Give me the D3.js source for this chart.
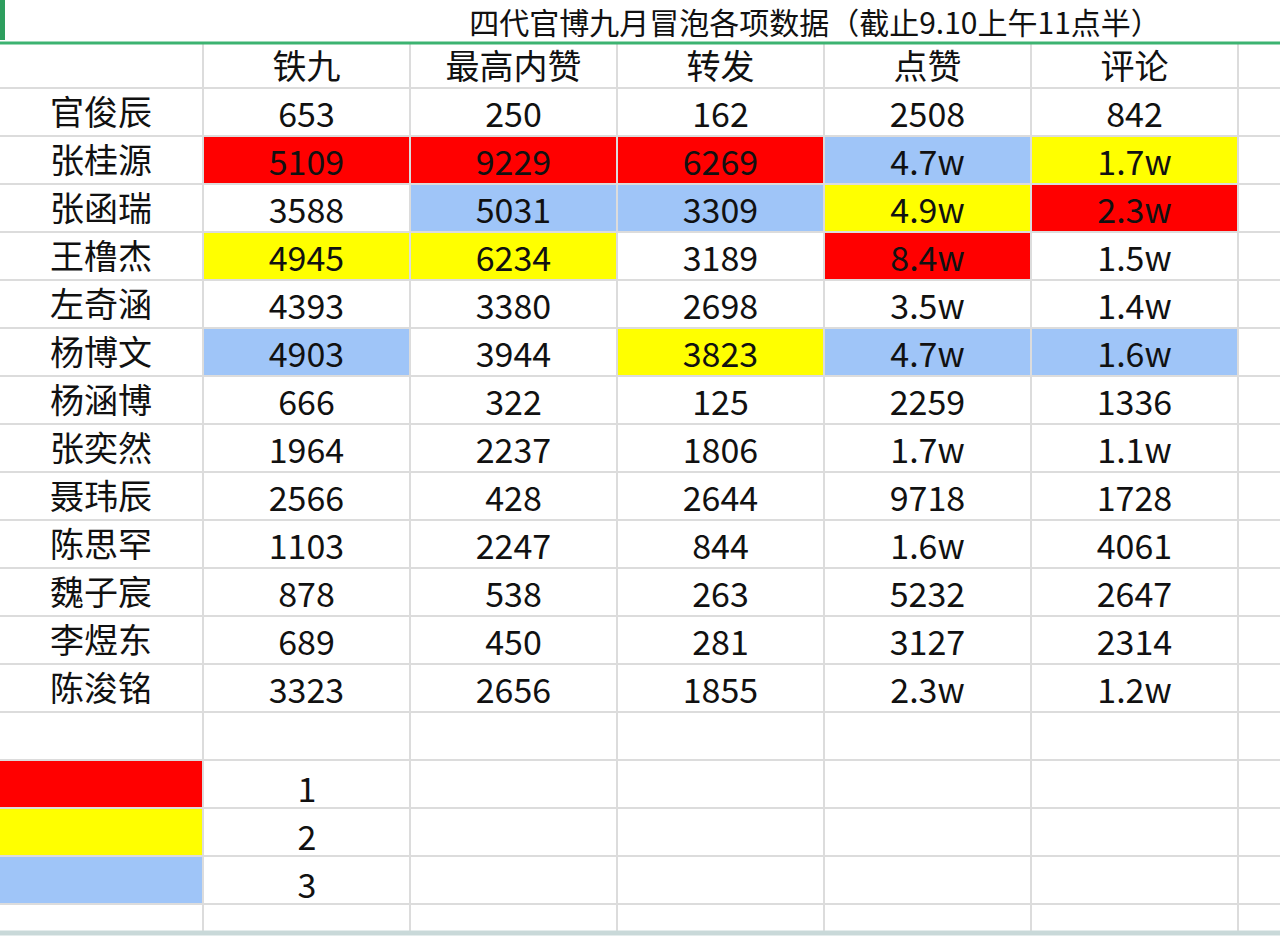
<!DOCTYPE html>
<html><head><meta charset="utf-8">
<script src="https://cdn.jsdelivr.net/npm/d3@7"></script>
<style>body{margin:0;background:#fff}</style></head>
<body><svg id="c" width="1280" height="936"></svg>
<script>
const title = "四代官博九月冒泡各项数据（截止9.10上午11点半）";
const columns = ["铁九","最高内赞","转发","点赞","评论"];
const names = ["官俊辰","张桂源","张函瑞","王橹杰","左奇涵","杨博文","杨涵博","张奕然","聂玮辰","陈思罕","魏子宸","李煜东","陈浚铭"];
const values = [
 ["653","250","162","2508","842"],
 ["5109","9229","6269","4.7w","1.7w"],
 ["3588","5031","3309","4.9w","2.3w"],
 ["4945","6234","3189","8.4w","1.5w"],
 ["4393","3380","2698","3.5w","1.4w"],
 ["4903","3944","3823","4.7w","1.6w"],
 ["666","322","125","2259","1336"],
 ["1964","2237","1806","1.7w","1.1w"],
 ["2566","428","2644","9718","1728"],
 ["1103","2247","844","1.6w","4061"],
 ["878","538","263","5232","2647"],
 ["689","450","281","3127","2314"],
 ["3323","2656","1855","2.3w","1.2w"]];
// rank highlight per cell (0 = none)
const ranks = [
 [0,0,0,0,0],[1,1,1,3,2],[0,3,3,2,1],[2,2,0,1,0],[0,0,0,0,0],[3,0,2,3,3],
 [0,0,0,0,0],[0,0,0,0,0],[0,0,0,0,0],[0,0,0,0,0],[0,0,0,0,0],[0,0,0,0,0],[0,0,0,0,0]];
const legendLabels = ["1","2","3"];
const rankColor = {1:"#ff0000",2:"#ffff00",3:"#9fc5f8"};

const svg = d3.select("#c");
const colEdges = [0,203,410,617,824,1031,1238,1280];
const x = i => colEdges[i];
const nRows = 19;
const y = d3.scaleLinear().domain([0,nRows]).range([43,43+48*nRows]);
const font = "'Noto Sans CJK SC', 'Noto Sans', sans-serif";
const dy = -3;

const cells=[];
values.forEach((r,ri)=>r.forEach((v,ci)=>cells.push({ri,ci,v,rank:ranks[ri][ci]})));
svg.selectAll("rect.h").data(cells.filter(c=>c.rank)).join("rect")
 .attr("x",d=>x(d.ci+1)).attr("y",d=>y(d.ri+1)-3).attr("width",d=>x(d.ci+2)-x(d.ci+1)).attr("height",y(1)-y(0))
 .attr("fill",d=>rankColor[d.rank]);
svg.selectAll("rect.l").data(legendLabels).join("rect")
 .attr("x",0).attr("y",(d,i)=>y(15+i)-2).attr("width",203).attr("height",y(1)-y(0))
 .attr("fill",(d,i)=>rankColor[i+1]);

const g = svg.append("g").attr("stroke","#dcdcdc").attr("stroke-width",2);
d3.range(1,nRows+1).forEach(i=>g.append("line").attr("x1",0).attr("x2",1280).attr("y1",y(i)-3).attr("y2",y(i)-3));
colEdges.slice(1,-1).forEach(c=>g.append("line").attr("x1",c).attr("x2",c).attr("y1",43).attr("y2",932));
svg.append("line").attr("x1",0).attr("x2",1280).attr("y1",933).attr("y2",933).attr("stroke","#c9d9d9").attr("stroke-width",5);

svg.append("line").attr("x1",0).attr("x2",1280).attr("y1",43).attr("y2",43).attr("stroke","#3cb371").attr("stroke-width",3);
svg.append("rect").attr("x",0).attr("y",0).attr("width",5).attr("height",40).attr("fill","#2e9e5e");
svg.append("text").attr("x",815).attr("y",34).attr("text-anchor","middle").attr("font-family",font).attr("font-size",30).attr("fill","#111").text(title);

const txt = (tx,ty,s)=>svg.append("text").attr("x",tx).attr("y",ty).attr("text-anchor","middle").attr("dominant-baseline","central").attr("font-family",font).attr("font-size",34).attr("fill","#111").text(s);
columns.forEach((c,i)=>txt((x(i+1)+x(i+2))/2,(y(0)+y(1))/2+dy,c));
names.forEach((n,i)=>txt(101,(y(i+1)+y(i+2))/2+dy-2,n));
cells.forEach(c=>txt((x(c.ci+1)+x(c.ci+2))/2,(y(c.ri+1)+y(c.ri+2))/2+dy,c.v));
legendLabels.forEach((l,i)=>txt(307,(y(15+i)+y(16+i))/2,l));
</script></body></html>
